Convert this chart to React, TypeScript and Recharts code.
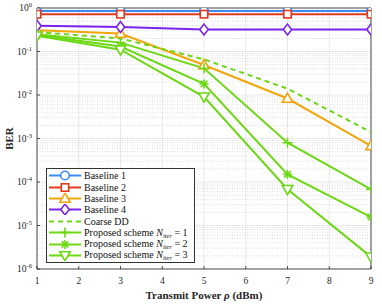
import React from 'react';
import { LineChart, Line, XAxis, YAxis, CartesianGrid, ReferenceLine, Legend } from 'recharts';

const powers = [1, 3, 5, 7, 9];
const baseline1 = [0.85, 0.85, 0.85, 0.85, 0.85];
const baseline2 = [0.72, 0.72, 0.72, 0.72, 0.72];
const baseline3 = [0.31, 0.26, 0.049, 0.0083, 0.00068];
const baseline4 = [0.39, 0.365, 0.32, 0.32, 0.32];
const coarseDD = [0.28, 0.2, 0.066, 0.014, 0.0014];
const proposed1 = [0.25, 0.16, 0.041, 0.0008, 0.000068];
const proposed2 = [0.24, 0.13, 0.018, 0.00015, 0.0000155];
const proposed3 = [0.23, 0.11, 0.0091, 0.000068, 0.0000019];

const xTicks = [1, 2, 3, 4, 5, 6, 7, 8, 9];
const yExponents = [0, -1, -2, -3, -4, -5, -6];
const yTicks = yExponents.map((e) => Math.pow(10, e));
const minorY: number[] = [];
for (let e = -6; e < 0; e++) {
  for (let m = 2; m <= 9; m++) minorY.push(m * Math.pow(10, e));
}

const data = powers.map((p, i) => ({
  p,
  b1: baseline1[i],
  b2: baseline2[i],
  b3: baseline3[i],
  b4: baseline4[i],
  cdd: coarseDD[i],
  n1: proposed1[i],
  n2: proposed2[i],
  n3: proposed3[i],
}));

const FONT = 'Liberation Serif, Times New Roman, Times, DejaVu Serif, serif';
const AXIS = '#262626';

const C_BLUE = '#3a8cf5';
const C_RED = '#e2381c';
const C_ORANGE = '#f2a60c';
const C_PURPLE = '#7b22ee';
const C_GREEN = '#6cd814';

type Shape = 'circle' | 'square' | 'triUp' | 'diamond' | 'none' | 'plus' | 'star' | 'triDown';

function Marker({ shape, color, cx, cy }: { shape: Shape; color: string; cx: number; cy: number }) {
  const sw = 1.6;
  switch (shape) {
    case 'circle':
      return <circle cx={cx} cy={cy} r={4.3} fill="#fff" stroke={color} strokeWidth={sw} />;
    case 'square':
      return <rect x={cx - 3.7} y={cy - 3.7} width={7.4} height={7.4} fill="#fff" stroke={color} strokeWidth={sw} />;
    case 'triUp':
      return (
        <polygon
          points={`${cx},${cy - 5.4} ${cx + 5.2},${cy + 3.8} ${cx - 5.2},${cy + 3.8}`}
          fill="#fff"
          stroke={color}
          strokeWidth={sw}
        />
      );
    case 'triDown':
      return (
        <polygon
          points={`${cx},${cy + 5.4} ${cx + 5.2},${cy - 3.8} ${cx - 5.2},${cy - 3.8}`}
          fill="#fff"
          stroke={color}
          strokeWidth={sw}
        />
      );
    case 'diamond':
      return (
        <polygon
          points={`${cx},${cy - 5.4} ${cx + 4.2},${cy} ${cx},${cy + 5.4} ${cx - 4.2},${cy}`}
          fill="#fff"
          stroke={color}
          strokeWidth={sw}
        />
      );
    case 'plus':
      return (
        <g stroke={color} strokeWidth={sw}>
          <line x1={cx - 5} y1={cy} x2={cx + 5} y2={cy} />
          <line x1={cx} y1={cy - 5} x2={cx} y2={cy + 5} />
        </g>
      );
    case 'star':
      return (
        <g stroke={color} strokeWidth={sw}>
          <line x1={cx - 4.5} y1={cy} x2={cx + 4.5} y2={cy} />
          <line x1={cx} y1={cy - 4.5} x2={cx} y2={cy + 4.5} />
          <line x1={cx - 3.3} y1={cy - 3.3} x2={cx + 3.3} y2={cy + 3.3} />
          <line x1={cx - 3.3} y1={cy + 3.3} x2={cx + 3.3} y2={cy - 3.3} />
        </g>
      );
    default:
      return <g />;
  }
}

const makeDot = (shape: Shape, color: string) => (props: any) => (
  <g key={`d-${shape}-${props.index}`}>
    <Marker shape={shape} color={color} cx={props.cx} cy={props.cy} />
  </g>
);

const series: { key: string; color: string; shape: Shape; dashed?: boolean }[] = [
  { key: 'b1', color: C_BLUE, shape: 'circle' },
  { key: 'b2', color: C_RED, shape: 'square' },
  { key: 'b3', color: C_ORANGE, shape: 'triUp' },
  { key: 'b4', color: C_PURPLE, shape: 'diamond' },
  { key: 'cdd', color: C_GREEN, shape: 'none', dashed: true },
  { key: 'n1', color: C_GREEN, shape: 'plus' },
  { key: 'n2', color: C_GREEN, shape: 'star' },
  { key: 'n3', color: C_GREEN, shape: 'triDown' },
];

const iterLabel = (k: number) => (
  <span>
    Proposed scheme <i>N</i>
    <i style={{ fontSize: '6.5px', position: 'relative', top: 2 }}>iter</i> = {k}
  </span>
);

const legendNames: Record<string, React.ReactNode> = {
  b1: 'Baseline 1',
  b2: 'Baseline 2',
  b3: 'Baseline 3',
  b4: 'Baseline 4',
  cdd: 'Coarse DD',
  n1: iterLabel(1),
  n2: iterLabel(2),
  n3: iterLabel(3),
};

const renderLegend = () => (
  <div
    style={{
      border: '1px solid #333',
      background: '#fff',
      width: 149,
      padding: '1px 0 1px 0',
      fontFamily: FONT,
      fontSize: '10px',
      lineHeight: '11px',
      color: '#111',
      boxSizing: 'border-box',
    }}
  >
    {series.map((s) => (
      <div key={s.key} style={{ display: 'flex', alignItems: 'center', height: 11.4, whiteSpace: 'nowrap' }}>
        <svg width={36} height={11} style={{ flex: 'none' }}>
          <line
            x1={2}
            y1={5.5}
            x2={34}
            y2={5.5}
            stroke={s.color}
            strokeWidth={2}
            strokeDasharray={s.dashed ? '5 4' : undefined}
          />
          <Marker shape={s.shape} color={s.color} cx={18} cy={5.5} />
        </svg>
        <span style={{ marginLeft: 1 }}>{legendNames[s.key]}</span>
      </div>
    ))}
  </div>
);

const YTick = (props: any) => {
  const { x, y, payload } = props;
  const e = Math.round(Math.log10(payload.value));
  const ax = x + 5;
  return (
    <g>
      <line x1={ax} y1={y} x2={ax + 3} y2={y} stroke={AXIS} strokeWidth={0.8} />
      <text x={x} y={y} dy={3} textAnchor="end" fontFamily={FONT} fontSize={9.5} fill={AXIS}>
        <tspan>10</tspan>
        <tspan dy={-4} fontSize={6.5}>
          {e}
        </tspan>
      </text>
    </g>
  );
};

const XTick = (props: any) => {
  const { x, y, payload } = props;
  const ay = y - 8;
  return (
    <g>
      <line x1={x} y1={ay} x2={x} y2={ay - 3} stroke={AXIS} strokeWidth={0.8} />
      <text x={x} y={ay + 15} textAnchor="middle" fontFamily={FONT} fontSize={9.5} fill={AXIS}>
        {payload.value}
      </text>
    </g>
  );
};

const XLabel = (props: any) => {
  const vb = props.viewBox || {};
  const cx = vb.x + vb.width / 2;
  return (
    <text x={cx} y={298.5} textAnchor="middle" fontFamily={FONT} fontSize={11} fontWeight="bold" fill={AXIS}>
      Transmit Power <tspan fontStyle="italic">ρ</tspan> (dBm)
    </text>
  );
};

const YLabel = (props: any) => {
  const vb = props.viewBox || {};
  const cy = vb.y + vb.height / 2;
  return (
    <text
      x={13}
      y={cy}
      transform={`rotate(-90, 13, ${cy})`}
      textAnchor="middle"
      fontFamily={FONT}
      fontSize={11}
      fontWeight="bold"
      fill={AXIS}
    >
      BER
    </text>
  );
};

export default function App() {
  return (
    <div style={{ position: 'absolute', left: 0, top: 0, width: 382, height: 304, background: '#fff' }}>
      <LineChart width={382} height={304} data={data} margin={{ top: 8, right: 11, bottom: 0, left: 0 }}>
        {minorY.map((v) => (
          <ReferenceLine key={`m${v}`} y={v} stroke="#d4d4d4" strokeWidth={0.8} strokeDasharray="1 1.5" />
        ))}
        <CartesianGrid stroke="#e3e3e3" strokeWidth={0.8} />
        <XAxis
          dataKey="p"
          type="number"
          domain={[1, 9]}
          ticks={xTicks}
          interval={0}
          allowDataOverflow
          tickLine={false}
          axisLine={{ stroke: AXIS, strokeWidth: 0.8 }}
          height={35}
          tickSize={4}
          tickMargin={4}
          tick={<XTick />}
          label={<XLabel />}
        />
        <YAxis
          scale="log"
          type="number"
          domain={[1e-6, 1]}
          ticks={yTicks}
          interval={0}
          allowDataOverflow
          width={37}
          tickLine={false}
          tickSize={3}
          tickMargin={2}
          axisLine={{ stroke: AXIS, strokeWidth: 0.8 }}
          tick={<YTick />}
          label={<YLabel />}
        />
        <ReferenceLine y={1} stroke={AXIS} strokeWidth={0.8} />
        <ReferenceLine x={9} stroke={AXIS} strokeWidth={0.8} />
        {series.map((s) => (
          <Line
            key={s.key}
            dataKey={s.key}
            stroke={s.color}
            strokeWidth={2}
            strokeDasharray={s.dashed ? '5 4' : undefined}
            dot={s.shape === 'none' ? false : makeDot(s.shape, s.color)}
            activeDot={false}
            isAnimationActive={false}
            type="linear"
          />
        ))}
        <Legend
          layout="vertical"
          align="center"
          verticalAlign="middle"
          content={renderLegend}
          wrapperStyle={{ position: 'absolute', left: 46, top: 168, width: 149, height: 'auto' }}
        />
      </LineChart>
    </div>
  );
}
